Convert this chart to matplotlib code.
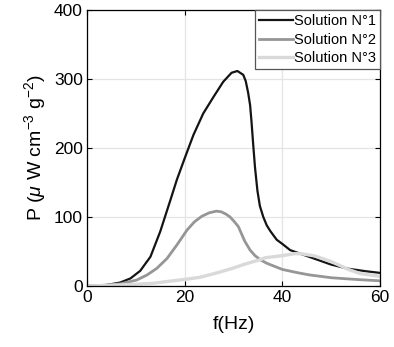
import matplotlib
matplotlib.use("Agg")
import matplotlib.pyplot as plt

plt.rcParams['font.family'] = ['Liberation Sans', 'DejaVu Sans']
plt.rcParams['mathtext.fontset'] = 'custom'
plt.rcParams['mathtext.rm'] = 'Liberation Sans'
plt.rcParams['mathtext.it'] = 'Liberation Sans:italic'

f1 = [0, 2, 4.1, 6.8, 8.9, 10.9, 13.0, 15.0, 17.1, 18.4, 20, 21.8, 23.8, 25.9, 27.9, 29.6,
      30.8, 32.0, 32.5, 33.0, 33.4, 33.7, 34.0, 34.4, 34.9, 35.4, 36.1, 36.8, 37.5, 38.85,
      40, 41.6, 43.6, 46.4, 50, 53.5, 57, 60]
p1 = [0, 0.4, 1.5, 5, 11, 22, 42.5, 79, 125, 154, 185, 219, 250, 274, 296, 309,
      311.6, 306, 297, 280, 262, 237, 208, 172, 138, 116, 100, 88, 80, 67,
      61, 52, 47, 40, 31, 25, 21.5, 19]

f2 = [0, 3, 6.8, 10.2, 12.3, 14.3, 16.4, 18.4, 20.5, 22.0, 23.5, 25, 26.5, 27.5, 28.5, 29.3,
      30.2, 31, 32.3, 33.4, 34.4, 35.5, 36.8, 40, 43.3, 45.6, 50, 55, 60]
p2 = [0, 0.8, 3, 8.7, 16, 25.6, 40, 59.4, 81.2, 93, 101, 106, 108.5, 107.5, 104, 100,
      93, 86, 65, 52, 44, 38, 33, 24, 19, 16, 12, 9.5, 7.5]

f3 = [0, 5, 10, 13.65, 17, 20.5, 23.1, 26.6, 29, 30, 32, 35.4, 36.5, 40, 42.6, 44, 46.7, 48.5,
      50.1, 52, 53.5, 56, 60]
p3 = [0, 1, 2.5, 4, 7, 10, 12.6, 19, 24, 26, 31, 38, 41, 44, 47, 46.5, 43.5, 39,
      35, 29, 24, 18, 14]

labels = ['Solution N°1', 'Solution N°2', 'Solution N°3']

fig = plt.figure(figsize=(3.94, 3.47), dpi=100)
ax = fig.add_axes([0.2208, 0.1758, 0.7437, 0.7954])

ax.plot(f1, p1, color='#141414', lw=1.6, label=labels[0], solid_joinstyle='round')
ax.plot(f2, p2, color='#969696', lw=2.0, label=labels[1], solid_joinstyle='round')
ax.plot(f3, p3, color='#d9d9d9', lw=2.4, label=labels[2], solid_joinstyle='round')

ax.set_xlim(0, 60)
ax.set_ylim(0, 400)
ax.set_xticks([0, 20, 40, 60])
ax.set_yticks([0, 100, 200, 300, 400])
ax.grid(True, color='#e4e4e4', lw=0.9)
ax.set_axisbelow(True)
ax.tick_params(direction='in', top=True, right=True, length=3.5, width=0.8,
               labelsize=12.5, colors='black', pad=3)
for s in ax.spines.values():
    s.set_linewidth(0.9)
    s.set_color('black')

ax.set_xlabel('f(Hz)', fontsize=14, labelpad=8)
ax.set_ylabel(r'P ($\mu$ W cm$^{-3}$ g$^{-2}$)', fontsize=14, labelpad=4)

leg = ax.legend(loc='upper right', fontsize=10.5, frameon=True, fancybox=False,
                borderaxespad=0, handlelength=2.3, handletextpad=0.05,
                labelspacing=0.3, borderpad=0.3)
leg.get_frame().set_edgecolor('#555555')
leg.get_frame().set_linewidth(0.9)
leg.get_frame().set_alpha(1)

fig.savefig('out.png', dpi=100)
